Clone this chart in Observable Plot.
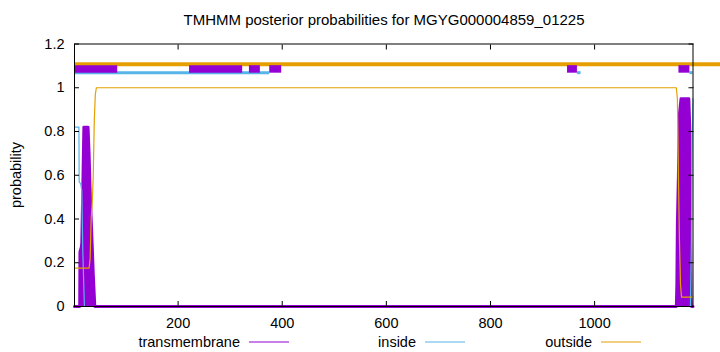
<!DOCTYPE html>
<html><head><meta charset="utf-8">
<script src="https://cdn.jsdelivr.net/npm/d3@7"></script>
<script src="https://cdn.jsdelivr.net/npm/@observablehq/plot@0.6"></script>
<style>
body{margin:0;background:#fff;}
#wrap{position:relative;width:720px;height:352px;font-family:"Liberation Sans",Arial,Helvetica,sans-serif;color:#000;overflow:hidden;}
#chart{position:absolute;left:0;top:0;}
#title{position:absolute;top:11px;left:0;width:768px;text-align:center;font-size:15px;white-space:nowrap;}
#ylabel{position:absolute;left:16px;top:175px;transform:translate(-50%,-50%) rotate(-90deg);font-size:14.5px;white-space:nowrap;}
.leg{position:absolute;top:333px;height:18px;font-size:14.5px;white-space:nowrap;line-height:18px;}
.leg span{position:absolute;right:0;}
</style></head><body>
<div id="wrap"><div id="chart"></div><div id="title"></div><div id="ylabel"></div><div id="legend"></div></div>
<script>
const chartTitle = "TMHMM posterior probabilities for MGYG000004859_01225";
const yLabel = "probability";
const seriesNames = ["transmembrane", "inside", "outside"];
const seriesColors = ["#9400d3", "#56b4e9", "#e69f00"];
const xTicks = [200, 400, 600, 800, 1000];
const yTicks = [0, 0.2, 0.4, 0.6, 0.8, 1, 1.2];

// posterior probability curves
const tmPos  = [1, 11, 11.5, 14, 15, 17, 19, 27, 29, 31, 33, 35, 37, 39, 40, 1157, 1158, 1159, 1161, 1163, 1166, 1181, 1183, 1184, 1185, 1186, 1189];
const tmProb = [0, 0, 0.25, 0.27, 0.29, 0.55, 0.82, 0.82, 0.7, 0.53, 0.4, 0.28, 0.15, 0.05, 0, 0, 0.1, 0.38, 0.6, 0.88, 0.95, 0.95, 0.8, 0.4, 0.05, 0, 0];
const inPos  = [1, 9.5, 10, 13, 15, 17, 20, 1184, 1186, 1187, 1189];
const inProb = [0.82, 0.82, 0.57, 0.56, 0.53, 0.25, 0, 0, 0.3, 0.7, 0.95];
const outPos  = [1, 29, 31, 33, 35, 37, 39, 41, 43, 1157, 1159, 1161, 1163, 1165, 1167, 1189];
const outProb = [0.175, 0.175, 0.22, 0.4, 0.47, 0.6, 0.85, 0.97, 1, 1, 0.95, 0.6, 0.3, 0.1, 0.043, 0.043];

// predicted topology bars above the curves
const tmBarStart = [3, 222, 337, 376, 948, 1162];
const tmBarEnd   = [84, 324, 358, 399, 967, 1183];
const inBarStart = [1, 967, 1183];
const inBarEnd   = [376, 974, 1189];
const outBarStart = [1];
const outBarEnd   = [1250];
const barLevel = {transmembrane: 1.086, inside: 1.069, outside: 1.108};

const fmtY = d => String(+d.toFixed(1));
const font = '"Liberation Sans", Arial, Helvetica, sans-serif';

const plot = Plot.plot({
  width: 720, height: 352,
  marginLeft: 74, marginRight: 27.5, marginTop: 43.5, marginBottom: 46,
  x: {domain: [1, 1189]},
  y: {domain: [0, 1.2]},
  style: {fontSize: "14.5px", fontFamily: font, background: "white", color: "black"},
  marks: [
    Plot.areaY(tmPos, {x: tmPos, y: tmProb, fill: seriesColors[0]}),
    Plot.line(tmPos, {x: tmPos, y: tmProb, stroke: seriesColors[0], strokeWidth: 3}),
    Plot.line(inPos, {x: inPos, y: inProb, stroke: seriesColors[1], strokeWidth: 1.2}),
    Plot.line(outPos, {x: outPos, y: outProb, stroke: seriesColors[2], strokeWidth: 1.2}),
    Plot.ruleY(outBarStart, {x1: outBarStart, x2: outBarEnd, y: () => barLevel.outside, stroke: seriesColors[2], strokeWidth: 4}),
    Plot.ruleY(inBarStart, {x1: inBarStart, x2: inBarEnd, y: () => barLevel.inside, stroke: seriesColors[1], strokeWidth: 3}),
    Plot.ruleY(tmBarStart, {x1: tmBarStart, x2: tmBarEnd, y: () => barLevel.transmembrane, stroke: seriesColors[0], strokeWidth: 7.5}),
    Plot.axisX({anchor: "bottom", ticks: xTicks, tickSize: -5, tickPadding: 16, label: null, tickFormat: d => String(d)}),
    Plot.axisX({anchor: "top", ticks: xTicks, tickSize: -5, label: null, tickFormat: () => ""}),
    Plot.axisY({anchor: "left", ticks: yTicks, tickSize: -5, tickPadding: 15, label: null, tickFormat: fmtY}),
    Plot.axisY({anchor: "right", ticks: yTicks, tickSize: -5, label: null, tickFormat: () => ""}),
    Plot.frame({stroke: "black", strokeWidth: 1})
  ]
});
document.getElementById("chart").appendChild(plot);
document.getElementById("title").textContent = chartTitle;
document.getElementById("ylabel").textContent = yLabel;

// legend below the plot area
const legendRight = [240, 416, 592];
const legend = document.getElementById("legend");
seriesNames.forEach((name, i) => {
  const item = document.createElement("div");
  item.className = "leg";
  item.style.left = "0px";
  item.style.width = legendRight[i] + "px";
  const s = document.createElement("span");
  s.textContent = name;
  item.appendChild(s);
  legend.appendChild(item);
  const svg = d3.select(legend).append("svg")
    .attr("width", 40).attr("height", 4)
    .style("position", "absolute")
    .style("left", (legendRight[i] + 9) + "px")
    .style("top", "340px");
  svg.append("line").attr("x1", 0).attr("x2", 40).attr("y1", 2).attr("y2", 2)
    .attr("stroke", seriesColors[i]).attr("stroke-width", 1.2);
});
</script>
</body></html>
